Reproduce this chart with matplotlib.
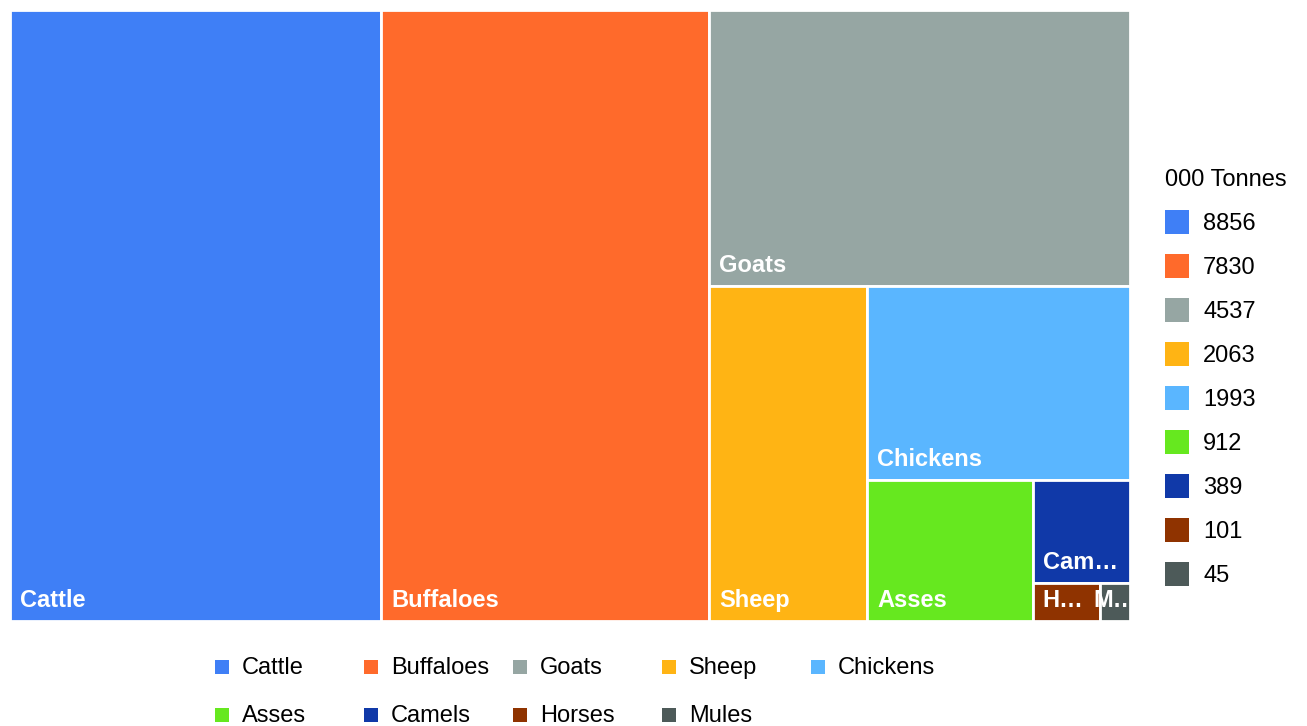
import matplotlib
matplotlib.use("Agg")
import matplotlib.pyplot as plt
from matplotlib.patches import Rectangle

plt.rcParams['font.family'] = ['Liberation Sans', 'DejaVu Sans']

animals = ['Cattle', 'Buffaloes', 'Goats', 'Sheep', 'Chickens',
           'Asses', 'Camels', 'Horses', 'Mules']
tonnes = [8856, 7830, 4537, 2063, 1993, 912, 389, 101, 45]
colors = ['#3f7ff6', '#ff6a2b', '#96a6a3', '#ffb414', '#5ab6ff',
          '#66e81f', '#1039a8', '#8f3300', '#4d5a59']
legend_title = '000 Tonnes'

W, H = 1307, 726


def slice_layout(values, x, y, w, h):
    # cut one cell at a time off the longer side of what is left
    rects = []
    rest = float(sum(values))
    for v in values:
        frac = v / rest
        if w >= h:
            cw = w * frac
            rects.append((x, y, cw, h))
            x += cw
            w -= cw
        else:
            ch = h * frac
            rects.append((x, y, w, ch))
            y += ch
            h -= ch
        rest -= v
    return rects


fig = plt.figure(figsize=(W / 100, H / 100), dpi=100)
ax = fig.add_axes([0, 0, 1, 1])
ax.set_xlim(0, W)
ax.set_ylim(H, 0)
ax.axis('off')

renderer = fig.canvas.get_renderer()
pad = 10
area = Rectangle((10, 10), 1120, 611, fill=False, lw=0)
ax.add_patch(area)
rects = slice_layout(tonnes, 10, 10, 1120, 611)
for name, col, (x, y, w, h) in zip(animals, colors, rects):
    patch = Rectangle((x, y), w, h, facecolor=col, edgecolor='white', lw=2)
    ax.add_patch(patch)
    t = ax.text(x + pad, y + h - 14, name, color='white', fontsize=17,
                fontweight='bold', ha='left', va='baseline')
    t.set_clip_path(area)
    # shorten the label with an ellipsis when it doesn't fit the cell
    k = len(name)
    while k > 1 and t.get_window_extent(renderer).width > w - 2 * pad:
        k -= 1
        t.set_text(name[:k] + '\u2026')
    if t.get_window_extent(renderer).width > w - 2 * pad:
        t.set_x(x + w / 2)
        t.set_ha('center')

# value legend on the right
ax.text(1165, 180, legend_title, fontsize=17, ha='left', va='center')
for i, (val, col) in enumerate(zip(tonnes, colors)):
    yc = 222 + 44 * i
    ax.add_patch(Rectangle((1165, yc - 12), 24, 24, facecolor=col, lw=0))
    ax.text(1203, yc + 2, str(val), fontsize=17, ha='left', va='center')

# category legend below
for i, (name, col) in enumerate(zip(animals, colors)):
    row, c = divmod(i, 5)
    xs = 215 + 149 * c
    yc = 667 + 48 * row
    ax.add_patch(Rectangle((xs, yc - 7), 14, 14, facecolor=col, lw=0))
    ax.text(xs + 27, yc + 1, name, fontsize=17, ha='left', va='center')

fig.savefig('out.png', dpi=100)
plt.close(fig)
